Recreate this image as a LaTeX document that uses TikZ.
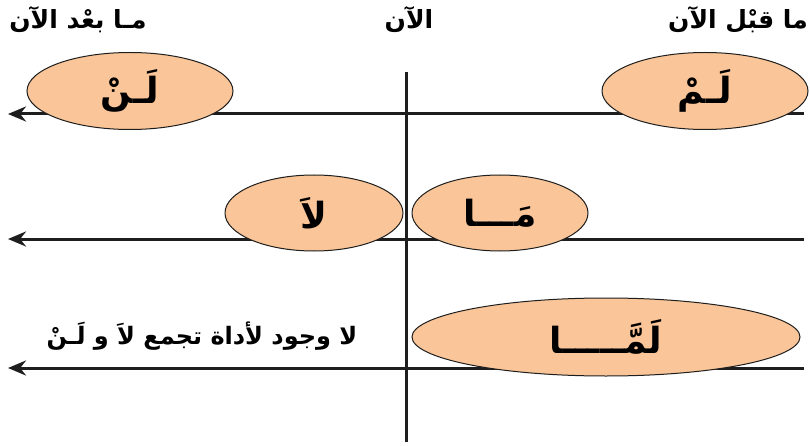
\documentclass[tikz,border=0pt]{standalone}
\usepackage{fontspec}
\TeXXeTstate=1
\newfontfamily\arabicfont[Script=Arabic]{DejaVu Sans}
\usetikzlibrary{arrows.meta,shapes.geometric}
\definecolor{peach}{RGB}{250,197,152}
\definecolor{ink}{RGB}{30,30,30}
\tikzset{
  axisline/.style={line width=3pt, draw=ink},
  arrowline/.style={axisline, -{Stealth[length=18pt,width=15pt]}},
  bubble/.style={ellipse, draw=ink, line width=1pt, fill=peach, inner sep=0pt,
    font=\arabicfont\bfseries\fontsize{36}{40}\selectfont},
  header/.style={font=\arabicfont\bfseries\fontsize{25}{29}\selectfont, inner sep=0pt},
  note/.style={font=\arabicfont\bfseries\fontsize{24}{28}\selectfont, inner sep=0pt}
}
\begin{document}
\begin{tikzpicture}[x=1pt,y=-1pt]
\useasboundingbox[fill=white] (0,0) rectangle (810,446);
% vertical axis
\coordinate (vtop) at (406,72);
\coordinate (vbot) at (406,442);
\draw[axisline] (vtop) -- (vbot);
% horizontal axes
\coordinate (r1e) at (804,114); \coordinate (r1w) at (8,114);
\coordinate (r2e) at (804,239); \coordinate (r2w) at (8,239);
\coordinate (r3e) at (804,368); \coordinate (r3w) at (8,368);
\draw[arrowline] (r1e) -- (r1w);
\draw[arrowline] (r2e) -- (r2w);
\draw[arrowline] (r3e) -- (r3w);
% headers
\node[header] (hafter) at (78,20) {\beginR مـا بعْد الآن\endR};
\node[header] (hnow) at (409,20) {\beginR الآن\endR};
\node[header] (hbefore) at (738,20) {\beginR ما قبْل الآن\endR};
% bubbles
\node[bubble, minimum width=206pt, minimum height=77pt] (lan) at (130,91) {\beginR لَـنْ\endR};
\node[bubble, minimum width=206pt, minimum height=77pt] (lam) at (705,91) {\beginR لَـمْ\endR};
\node[bubble, minimum width=178pt, minimum height=76pt] (la) at (314,213) {\beginR لاَ\endR};
\node[bubble, minimum width=176pt, minimum height=76pt] (ma) at (500,213) {\beginR مَـــا\endR};
\node[bubble, minimum width=388pt, minimum height=78pt] (lamma) at (606,337) {\beginR لَمَّـــــا\endR};
% note
\node[note] (none) at (202,336) {\beginR لا وجود لأداة تجمع لاَ و لَـنْ\endR};
\end{tikzpicture}
\end{document}
